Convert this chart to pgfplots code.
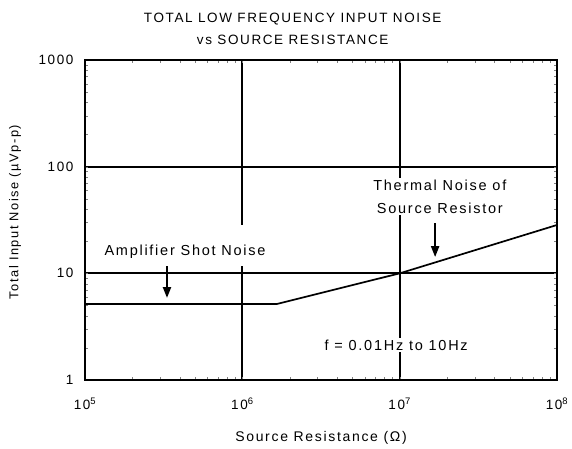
\documentclass[border=0pt]{standalone}
\usepackage{fontspec}
\setmainfont{Liberation Sans}[LetterSpace=12]
\usepackage{pgfplots}
\pgfplotsset{compat=1.18}
\usetikzlibrary{arrows.meta}
\begin{document}
\begin{tikzpicture}[x=1pt,y=1pt]
\begin{axis}[
  at={(0,0)}, anchor=south west,
  scale only axis, width=472pt, height=320pt,
  xmode=log, ymode=log,
  xmin=1e5, xmax=1e8, ymin=1, ymax=1000,
  xtick={1e5,1e6,1e7,1e8},
  xticklabels={10\textsuperscript{5},10\textsuperscript{6},10\textsuperscript{7},10\textsuperscript{8}},
  ytick={1,10,100,1000},
  yticklabels={1,10,100,1000},
  minor xtick={}, minor ytick={},
  major tick length=0pt,
  grid=major,
  major grid style={black, line width=1.7pt},
  axis line style={line width=2pt},
  tick label style={font=\fontsize{13.5}{15}\selectfont},
  xticklabel style={yshift=-14pt},
  yticklabel style={xshift=-8pt},
  clip=false,
]
\addplot[black, line width=1.7pt] coordinates {
  (1e5,5.16) (1.66e6,5.16) (1e7,10) (1e8,28.4)
};
\node[fill=white, minimum width=5pt, minimum height=41pt, inner sep=0pt] at (axis cs:1e6,18.2) {};
\node[fill=white, inner sep=1pt, font=\fontsize{14.5}{16}\selectfont] at (axis cs:4.32e5,15.85) {Amplifier Shot Noise};
\draw[line width=2.2pt, -{Triangle[width=8pt,length=11pt]}] (axis cs:3.32e5,11.7) -- (axis cs:3.32e5,5.87);
\node[fill=white, inner sep=2pt, align=center, font=\fontsize{14.5}{23}\selectfont] at (axis cs:1.80e7,52.5) {Thermal Noise of\\Source Resistor};
\draw[line width=2.2pt, -{Triangle[width=8pt,length=11pt]}] (axis cs:1.68e7,29.6) -- (axis cs:1.68e7,14.2);
\node[fill=white, inner sep=2pt, font=\fontsize{14.5}{16}\selectfont] at (axis cs:9.5e6,2.13) {f = 0.01Hz to 10Hz};
\node[font=\fontsize{14}{16}\selectfont] at ([yshift=-58pt]rel axis cs:0.5,0) {Source Resistance (Ω)};
\node[font=\fontsize{12.8}{15}\selectfont, rotate=90] at ([xshift=-70pt]rel axis cs:0,0.525) {Total Input Noise (µVp-p)};
\node[font=\fontsize{13.5}{22}\selectfont, align=center] at ([yshift=31pt]rel axis cs:0.44,1) {TOTAL LOW FREQUENCY INPUT NOISE\\vs SOURCE RESISTANCE};
\end{axis}
\path[use as bounding box] (-85,-69) rectangle (487,380);
\end{tikzpicture}
\end{document}
